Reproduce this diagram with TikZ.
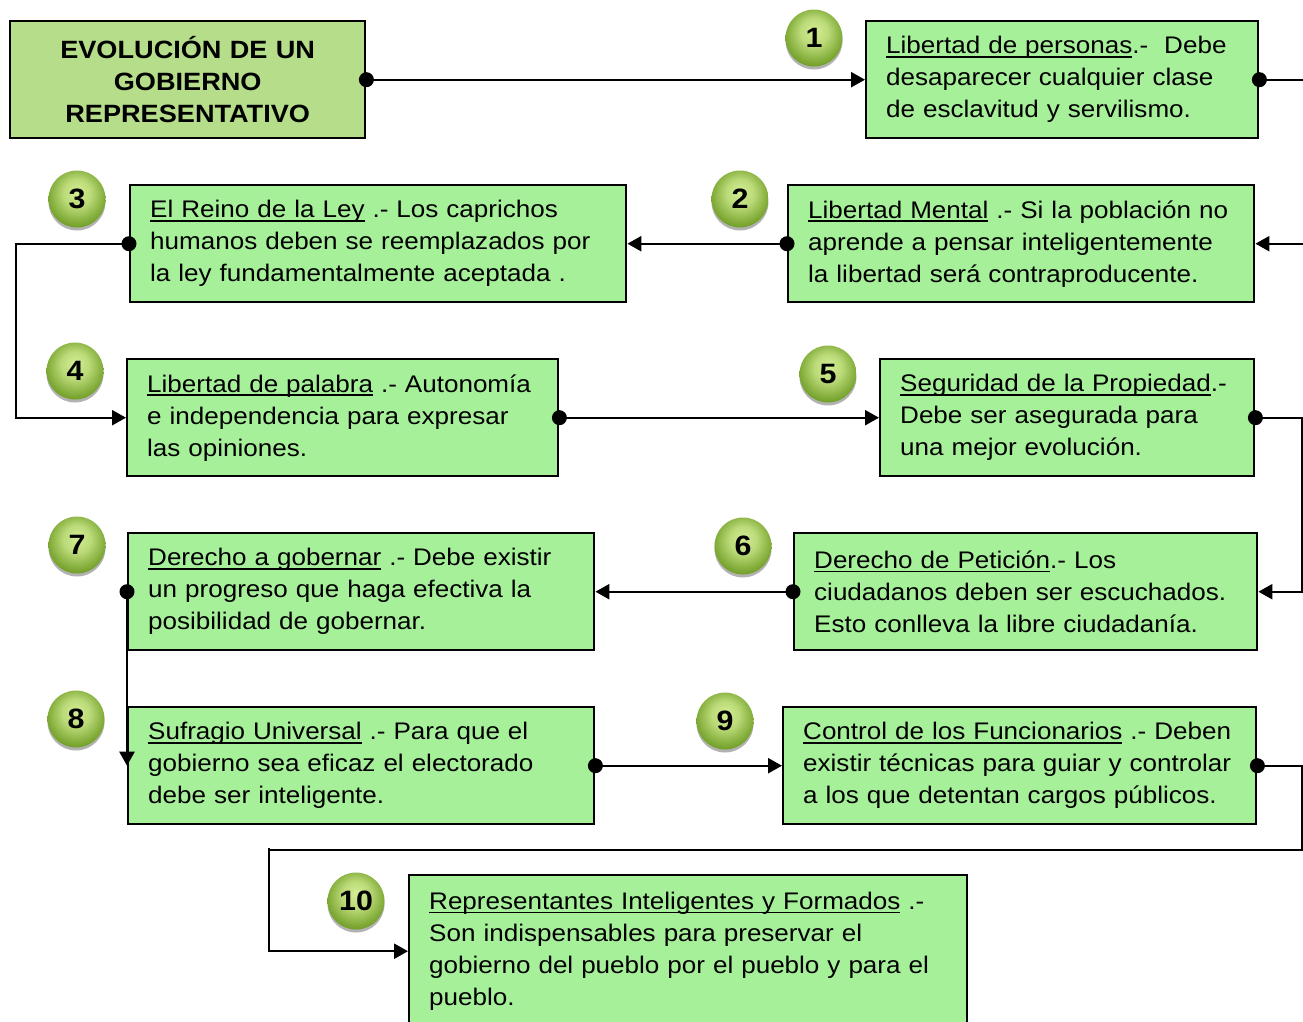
\documentclass[tikz,border=0pt]{standalone}
\usepackage{fontspec}
\setmainfont{Liberation Sans}[FakeStretch=1.085]
\usetikzlibrary{arrows.meta,shadows}
\definecolor{boxgreen}{RGB}{167,240,154}
\definecolor{titlegreen}{RGB}{182,222,138}
\definecolor{ballin}{RGB}{212,238,148}
\definecolor{ballout}{RGB}{112,158,38}
\pgfdeclareradialshading{greenball}{\pgfpoint{0bp}{7bp}}{color(0bp)=(ballin); color(12bp)=(ballin!75!ballout); color(28bp)=(ballout); color(50bp)=(ballout)}
\newcommand\ulx[1]{\setbox0\hbox{#1}\rlap{\rule[-4pt]{\wd0}{1.6pt}}\box0\relax}
\begin{document}
\begin{tikzpicture}[x=1pt,y=-1pt,
  box/.style={draw=black, line width=2.4pt, fill=boxgreen, anchor=north west, align=left,
    inner xsep=20pt, inner ysep=0pt, minimum height=117pt, font=\fontsize{24}{32}\selectfont},
  titlebox/.style={box, fill=titlegreen, align=center, font=\fontsize{25}{32}\selectfont\bfseries},
  conn/.style={line width=2.4pt, -{Triangle[length=14pt,width=15pt]}},
  numc/.style={circle, minimum size=57pt, inner sep=0pt, shading=greenball,
    font=\fontsize{28}{28}\selectfont\bfseries,
    drop shadow={shadow xshift=0pt, shadow yshift=-3pt, opacity=0.3, fill=black}}]
\path[use as bounding box] (0,0) rectangle (1303,1021);

\node[titlebox, text width=315pt] (t) at (9,20) {EVOLUCIÓN DE UN\\GOBIERNO\\REPRESENTATIVO};
\node[box, text width=352pt] (b1) at (865,20) {\ulx{Libertad de personas}.-\ \ Debe\\desaparecer cualquier clase\\de esclavitud y servilismo.};
\node[box, text width=426pt] (b2) at (787,184) {\ulx{Libertad Mental} .- Si la población no\\aprende a pensar inteligentemente\\la libertad será contraproducente.};
\node[box, text width=456pt] (b3) at (129,184) {\ulx{El Reino de la Ley} .- Los caprichos\\humanos deben se reemplazados por\\la ley fundamentalmente aceptada .};
\node[box, text width=391pt] (b4) at (126,358) {\ulx{Libertad de palabra} .- Autonomía\\e independencia para expresar\\las opiniones.};
\node[box, text width=334pt] (b5) at (879,358) {\ulx{Seguridad de la Propiedad}.-\\Debe ser asegurada para\\una mejor evolución.};
\node[box, text width=423pt] (b6) at (793,532) {\ulx{Derecho de Petición}.- Los\\ciudadanos deben ser escuchados.\\Esto conlleva la libre ciudadanía.};
\node[box, text width=426pt] (b7) at (127,532) {\ulx{Derecho a gobernar} .- Debe existir\\un progreso que haga efectiva la\\posibilidad de gobernar.};
\node[box, text width=426pt] (b8) at (127,706) {\ulx{Sufragio Universal} .- Para que el\\gobierno sea eficaz el electorado\\debe ser inteligente.};
\node[box, text width=433pt] (b9) at (782,706) {\ulx{Control de los Funcionarios} .- Deben\\existir técnicas para guiar y controlar\\a los que detentan cargos públicos.};
\node[box, text width=518pt, minimum height=152pt] (b10) at (408,874) {\ulx{Representantes Inteligentes y Formados} .-\\Son indispensables para preservar el\\gobierno del pueblo por el pueblo y para el\\pueblo.};

\draw[conn] (t.east) -- (b1.west);
\draw[conn] (b1.east) -- ++(49,0) |- (b2.east);
\draw[conn] (b2.west) -- (b3.east);
\draw[conn] (b3.west) -- ++(-113,0) |- (b4.west);
\draw[conn] (b4.east) -- (b5.west);
\draw[conn] (b5.east) -- ++(47,0) |- (b6.east);
\draw[conn] (b6.west) -- (b7.east);
\draw[conn] (b7.west) -- (b8.west);
\draw[conn] (b8.east) -- (b9.west);
\draw[conn] (b9.east) -- ++(45,0) -- ++(0,84) -| (269,848) |- (b10.west);

\foreach \p in {t.east,b1.east,b2.west,b3.west,b4.east,b5.east,b6.west,b7.west,b8.east,b9.east}
  \fill (\p) circle[radius=7.5pt];

\node[numc] (c1) at (814,38) {1};
\node[numc] (c2) at (740,199) {2};
\node[numc] (c3) at (77,199) {3};
\node[numc] (c4) at (75,371) {4};
\node[numc] (c5) at (828,374) {5};
\node[numc] (c6) at (743,546) {6};
\node[numc] (c7) at (77,545) {7};
\node[numc] (c8) at (76,719) {8};
\node[numc] (c9) at (725,721) {9};
\node[numc] (c10) at (356,901) {10};
\end{tikzpicture}
\end{document}
